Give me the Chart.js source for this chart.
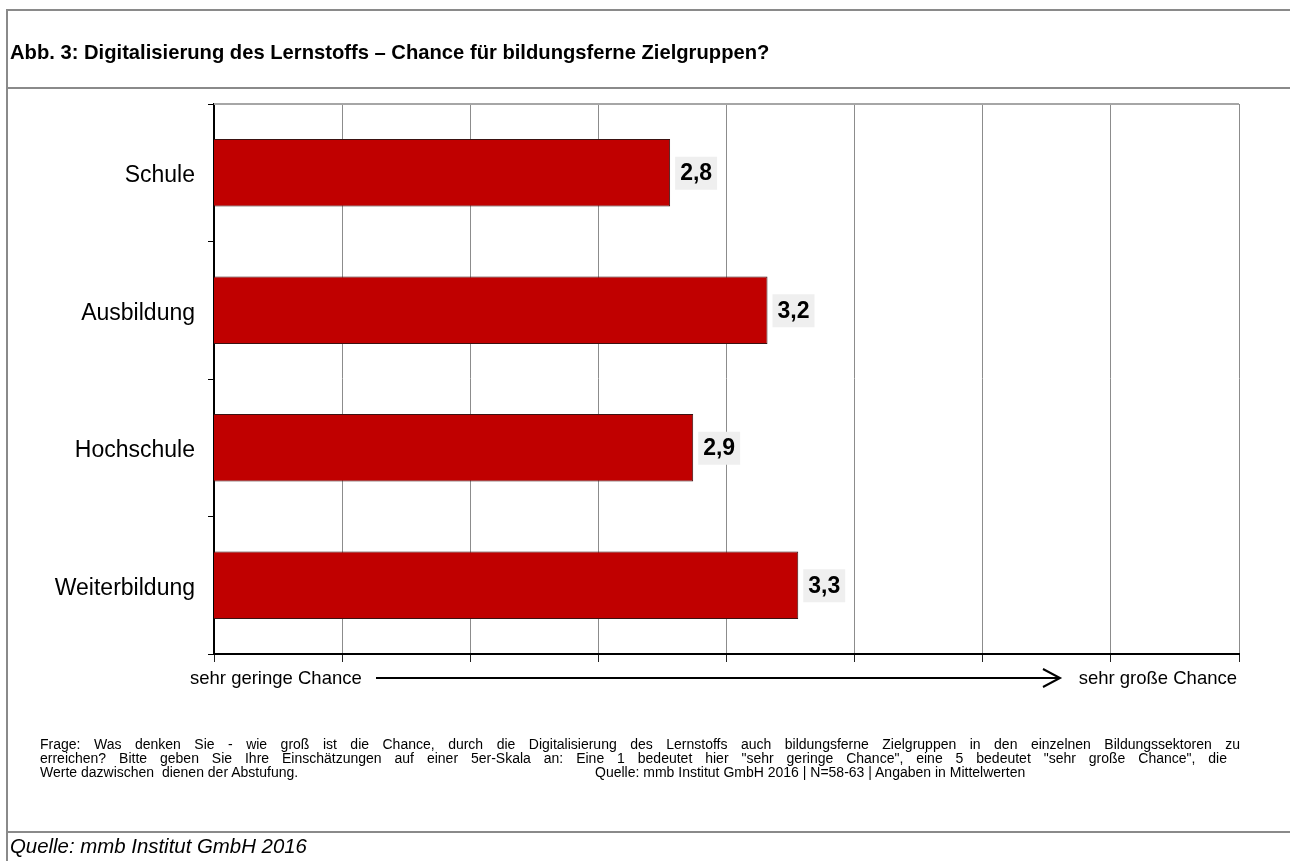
<!DOCTYPE html>
<html lang="de">
<head>
<meta charset="utf-8">
<title>Abb. 3: Digitalisierung des Lernstoffs</title>
<script src="https://cdn.jsdelivr.net/npm/chart.js@4.4.1/dist/chart.umd.min.js"></script>
<style>
  html, body { margin:0; padding:0; background:#fff; }
  body { width:1290px; height:861px; position:relative; overflow:hidden;
         font-family:'Liberation Sans', Arial, sans-serif; color:#000; }
  #chart { position:absolute; left:0; top:0; }
  .rule { position:absolute; background:#8a8a8a; }
  #title { position:absolute; left:10px; top:40px; font-size:20.2px; font-weight:bold;
           line-height:24px; white-space:nowrap; }
  .note { position:absolute; font-size:14px; line-height:14px; }
  .just { text-align:justify; text-align-last:justify; }
  #source { position:absolute; left:10px; top:834px; font-size:20.4px; font-style:italic;
            line-height:24px; white-space:nowrap; }
</style>
</head>
<body>
<canvas id="chart" width="1290" height="861"></canvas>

<!-- frame lines -->
<div class="rule" style="left:6px;top:9px;width:2px;height:852px"></div>
<div class="rule" style="left:6px;top:9px;width:1284px;height:2px"></div>
<div class="rule" style="left:6px;top:87px;width:1284px;height:2px"></div>
<div class="rule" style="left:6px;top:831px;width:1284px;height:2px"></div>

<div id="title">Abb. 3: Digitalisierung des Lernstoffs – Chance für bildungsferne Zielgruppen?</div>

<div class="note just" style="left:40px;top:737px;width:1200px">Frage: Was denken Sie - wie groß ist die Chance, durch die Digitalisierung des Lernstoffs auch bildungsferne Zielgruppen in den einzelnen Bildungssektoren zu</div>
<div class="note just" style="left:40px;top:751px;width:1187px">erreichen? Bitte geben Sie Ihre Einschätzungen auf einer 5er-Skala an: Eine 1 bedeutet hier "sehr geringe Chance", eine 5 bedeutet "sehr große Chance", die</div>
<div class="note" style="left:40px;top:765px;white-space:pre">Werte dazwischen  dienen der Abstufung.</div>
<div class="note" style="left:595px;top:765px;white-space:nowrap">Quelle: mmb Institut GmbH 2016 | N=58-63 | Angaben in Mittelwerten</div>

<div id="source">Quelle: mmb Institut GmbH 2016</div>

<script>
// Mittelwerte (5er-Skala) je Bildungssektor
const categories = ['Schule', 'Ausbildung', 'Hochschule', 'Weiterbildung'];
const meanValues = [2.78, 3.16, 2.87, 3.28];
const scaleMin = 1;
const scaleMax = 5;
const scaleStep = 0.5;
const axisEndLabels = ['sehr geringe Chance', 'sehr große Chance'];

const FONT = '"Liberation Sans", Arial, sans-serif';

// grey value boxes right of each bar
const valueBoxes = {
  id: 'valueBoxes',
  afterDatasetsDraw(chart){
    const ctx = chart.ctx;
    const meta = chart.getDatasetMeta(0);
    ctx.save();
    ctx.font = 'bold 23px ' + FONT;
    ctx.textBaseline = 'middle';
    ctx.textAlign = 'left';
    meta.data.forEach((bar, i) => {
      const txt = meanValues[i].toFixed(1).replace('.', ',');
      const w = ctx.measureText(txt).width;
      const x = bar.x + 5;
      ctx.fillStyle = '#efefef';
      ctx.fillRect(x, bar.y - 16, w + 10, 33);
      ctx.fillStyle = '#000';
      ctx.fillText(txt, x + 5, bar.y + 1);
    });
    ctx.restore();
  }
};

// top edge of the plot and the scale arrow below the axis
const plotFrame = {
  id: 'plotFrame',
  afterDraw(chart){
    const ctx = chart.ctx;
    const a = chart.chartArea;
    ctx.save();
    ctx.strokeStyle = '#a6a6a6';
    ctx.lineWidth = 2;
    ctx.beginPath();
    ctx.moveTo(a.left, a.top);
    ctx.lineTo(a.right, a.top);
    ctx.stroke();

    const y = a.bottom + 24;
    ctx.font = '18.5px ' + FONT;
    ctx.fillStyle = '#000';
    ctx.textBaseline = 'middle';
    ctx.textAlign = 'left';
    ctx.fillText(axisEndLabels[0], a.left - 24, y + 1);
    ctx.textAlign = 'right';
    ctx.fillText(axisEndLabels[1], a.right - 2, y + 1);

    ctx.strokeStyle = '#000';
    ctx.lineWidth = 2;
    ctx.beginPath();
    ctx.moveTo(376, y);
    ctx.lineTo(1059, y);
    ctx.stroke();
    ctx.beginPath();
    ctx.moveTo(1043, y - 9);
    ctx.lineTo(1060, y);
    ctx.lineTo(1043, y + 9);
    ctx.stroke();
    ctx.restore();
  }
};

new Chart(document.getElementById('chart'), {
  type: 'bar',
  data: {
    labels: categories,
    datasets: [{
      data: meanValues,
      backgroundColor: '#c00000',
      borderColor: '#3a1212',
      borderWidth: 1,
      borderSkipped: false,
      categoryPercentage: 1,
      barPercentage: 0.49
    }]
  },
  options: {
    indexAxis: 'y',
    responsive: false,
    animation: false,
    devicePixelRatio: 1,
    layout: { padding: { top: 104, right: 51, left: 0, bottom: 0 } },
    plugins: { legend: { display: false }, tooltip: { enabled: false } },
    scales: {
      x: {
        min: scaleMin, max: scaleMax,
        afterFit(scale){ scale.height = 207; },
        ticks: { stepSize: scaleStep, display: false },
        grid: { color: '#8c8c8c', lineWidth: 1, drawTicks: true, tickLength: 8, tickColor: '#222' },
        border: { color: '#000', width: 2 }
      },
      y: {
        afterFit(scale){ scale.width = 214; },
        ticks: { color: '#000', font: { family: FONT, size: 23 }, padding: 13, labelOffset: 3 },
        grid: { offset: true, drawOnChartArea: false, tickLength: 6, tickColor: '#000' },
        border: { color: '#000', width: 2 }
      }
    }
  },
  plugins: [valueBoxes, plotFrame]
});
</script>
</body>
</html>
